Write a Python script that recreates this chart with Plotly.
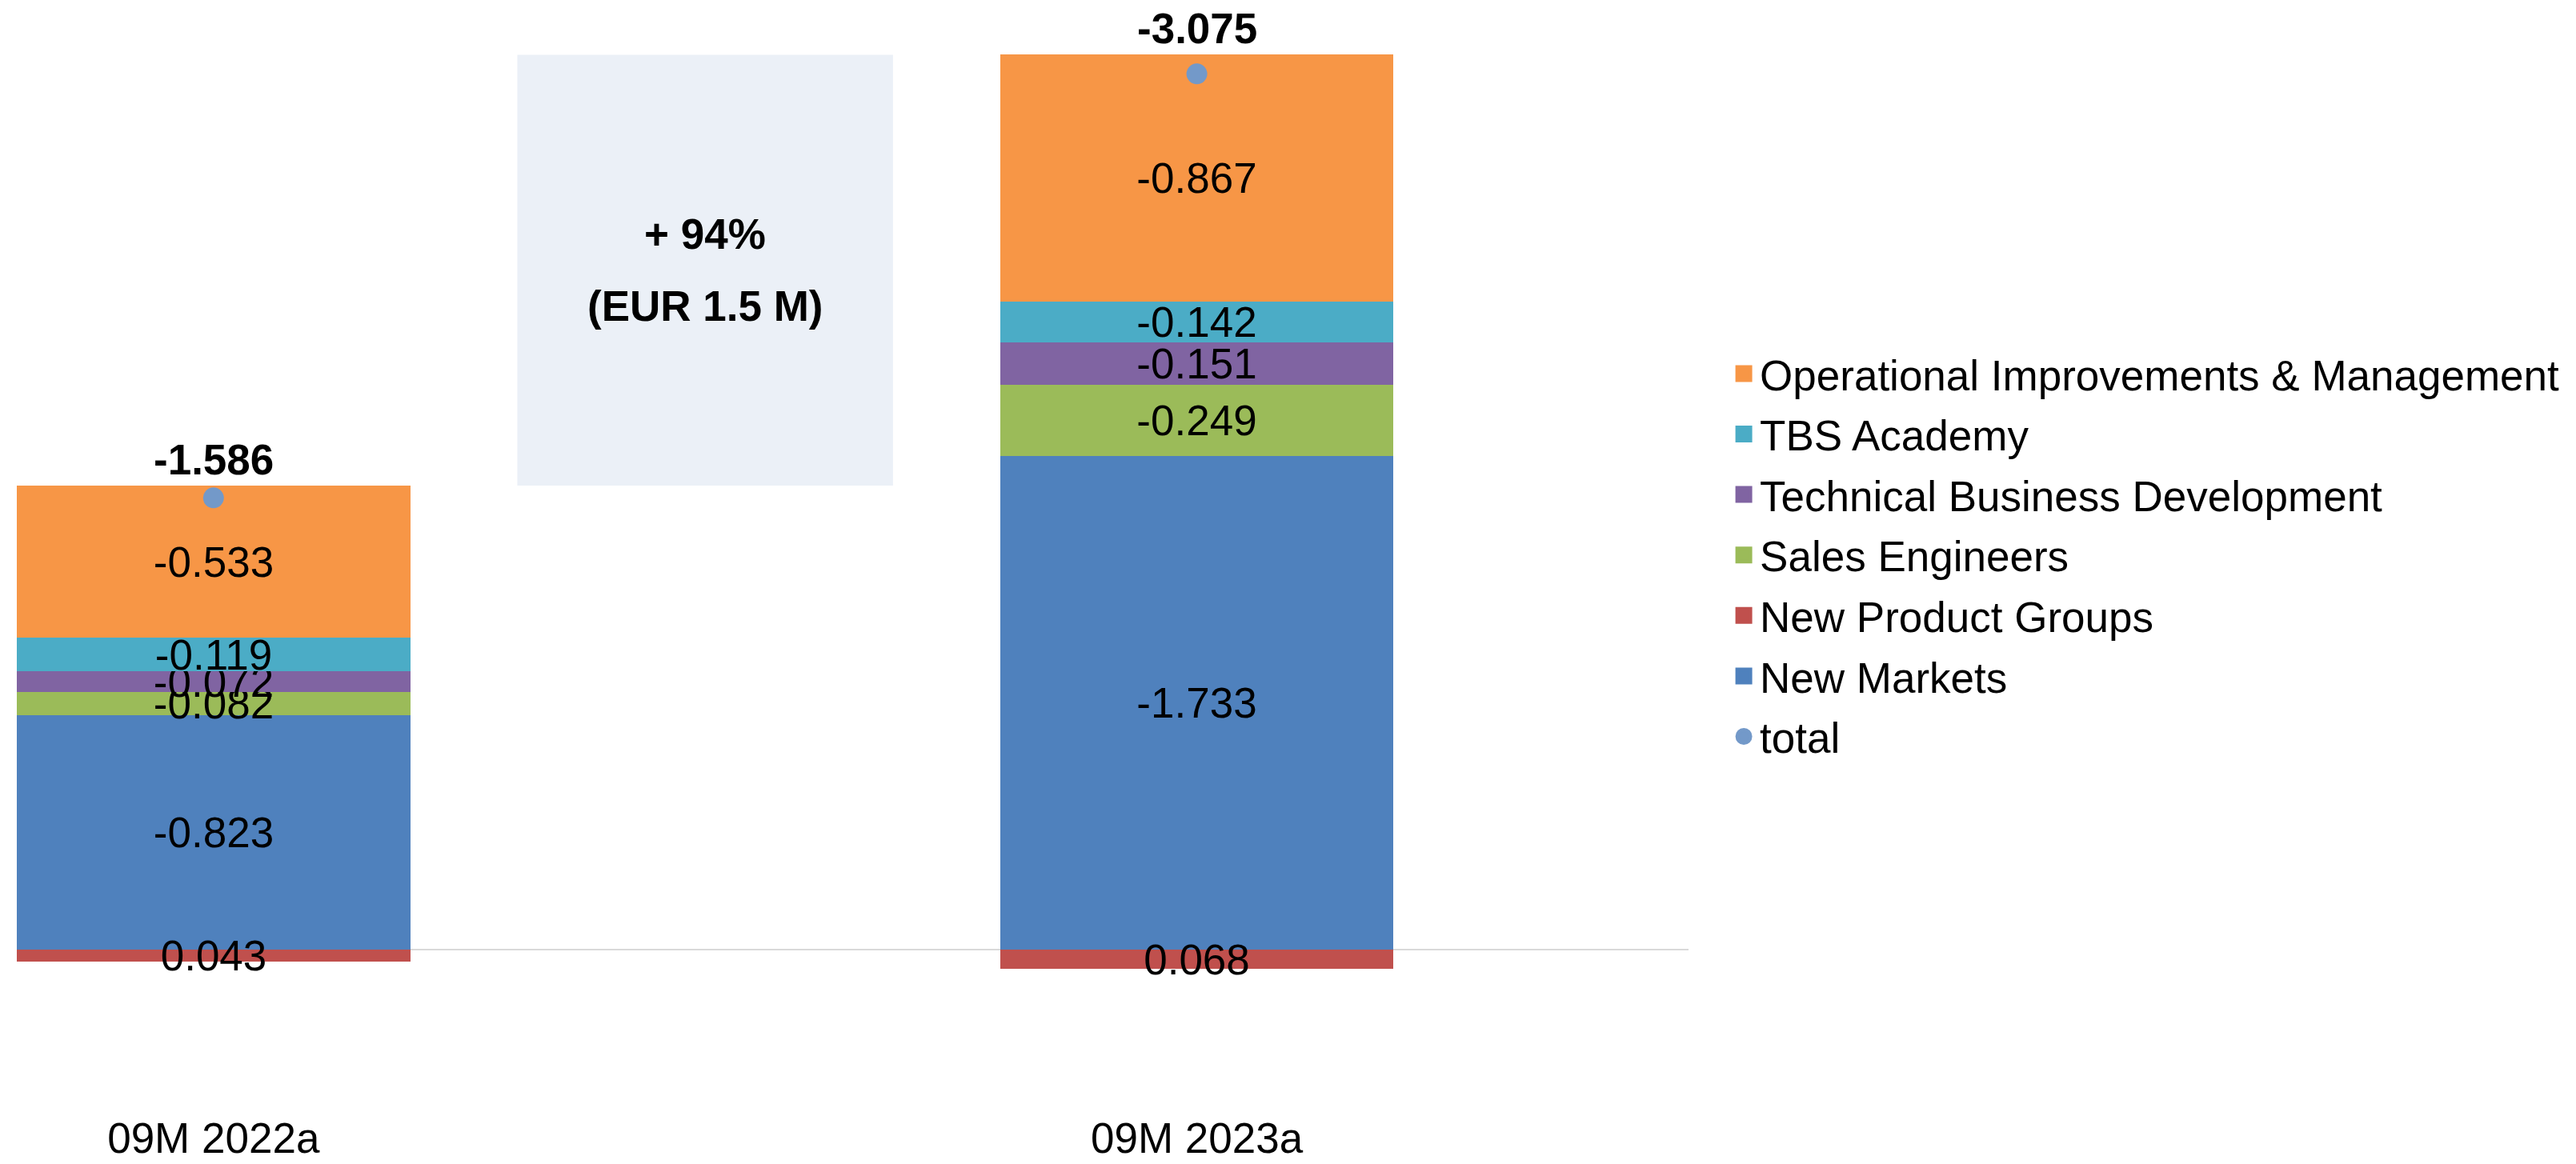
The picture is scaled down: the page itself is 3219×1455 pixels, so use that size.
import plotly.graph_objects as go

# Periods on the x axis (a spacer slot sits between them for the change box)
periods = ["09M 2022a", "09M 2023a"]

# Segment values per business area, EUR M
new_markets = [-0.823, -1.733]
new_product_groups = [0.043, 0.068]
sales_engineers = [-0.082, -0.249]
technical_business_dev = [-0.072, -0.151]
tbs_academy = [-0.119, -0.142]
operational_improvements = [-0.533, -0.867]
totals = [-1.586, -3.075]

# x positions: the two periods with an empty slot between them
x_pos = [2 * i for i in range(len(periods))]

FONT = "Liberation Sans, Arial, sans-serif"
FS = 53
TOTAL_COLOR = "#7399C9"

# stacking order from the zero line outward; legend rank puts them top-down
segments = [
    ("New Markets", new_markets, "#4F81BD", 6),
    ("New Product Groups", new_product_groups, "#C0504D", 5),
    ("Sales Engineers", sales_engineers, "#9BBB59", 4),
    ("Technical Business Development", technical_business_dev, "#8064A2", 3),
    ("TBS Academy", tbs_academy, "#4BACC6", 2),
    ("Operational Improvements & Management", operational_improvements, "#F79646", 1),
]

fig = go.Figure()

for name, vals, color, rank in segments:
    fig.add_trace(go.Bar(
        x=x_pos, y=vals, name=name, legendgroup=name, showlegend=False,
        marker=dict(color=color, line=dict(width=0)),
        width=0.8,
        text=[f"{v:.3f}" for v in vals],
        textposition="inside",
        insidetextanchor="middle",
        textangle=0,
        constraintext="none",
        insidetextfont=dict(family=FONT, size=FS, color="black"),
        cliponaxis=False,
    ))
    # larger legend swatch
    fig.add_trace(go.Scatter(
        x=[None], y=[None], mode="markers", name=name, legendgroup=name,
        legendrank=rank,
        marker=dict(symbol="square", size=16, color=color,
                    line=dict(width=5, color=color)),
        hoverinfo="skip",
    ))

fig.add_trace(go.Scatter(
    x=x_pos, y=totals, mode="markers", name="total",
    legendgroup="total", showlegend=False,
    marker=dict(size=26, color=TOTAL_COLOR),
    hoverinfo="skip",
))
fig.add_trace(go.Scatter(
    x=[None], y=[None], mode="markers", name="total", legendgroup="total",
    legendrank=7,
    marker=dict(symbol="circle", size=16, color=TOTAL_COLOR,
                line=dict(width=5, color=TOTAL_COLOR)),
    hoverinfo="skip",
))

# top of each stacked bar (sum of the negative segments)
neg_tops = [sum(v[i] for _, v, _, _ in segments if v[i] < 0) for i in range(len(periods))]

annotations = []
for xp, tot, top in zip(x_pos, totals, neg_tops):
    annotations.append(dict(
        x=xp, y=top, xref="x", yref="y", text=f"<b>{tot:.3f}</b>",
        showarrow=False, yshift=33, yanchor="middle",
        font=dict(family=FONT, size=FS, color="black"),
    ))

# change box between the two bars
pct = (totals[1] / totals[0] - 1) * 100
diff = abs(totals[1] - totals[0])
box_mid_x = (x_pos[0] + x_pos[1]) / 2
box_mid_y = (neg_tops[0] + neg_tops[1]) / 2
fig.add_shape(type="rect", xref="x", yref="y",
              x0=box_mid_x - 0.382, x1=box_mid_x + 0.382,
              y0=neg_tops[0], y1=neg_tops[1],
              fillcolor="#EBF0F7", line=dict(width=0), layer="below")
annotations.append(dict(x=box_mid_x, y=box_mid_y, xref="x", yref="y",
                        text=f"<b>+ {pct:.0f}%</b>", showarrow=False, yshift=45,
                        font=dict(family=FONT, size=FS, color="black")))
annotations.append(dict(x=box_mid_x, y=box_mid_y, xref="x", yref="y",
                        text=f"<b>(EUR {diff:.1f} M)</b>", showarrow=False, yshift=-45,
                        font=dict(family=FONT, size=FS, color="black")))

fig.update_layout(
    width=3219, height=1455,
    margin=dict(l=21, r=1109, t=40, b=68, autoexpand=False),
    paper_bgcolor="white", plot_bgcolor="white",
    barmode="relative",
    bargap=0,
    font=dict(family=FONT, size=FS, color="black"),
    showlegend=True,
    legend=dict(
        traceorder="grouped", tracegroupgap=3.7,
        x=1.0235, xanchor="left", y=0.5145, yanchor="middle",
        font=dict(family=FONT, size=FS, color="black"),
        bgcolor="rgba(0,0,0,0)",
    ),
    annotations=annotations,
    xaxis=dict(
        range=[-0.4, 3.0], tickmode="array", tickvals=x_pos, ticktext=periods,
        showgrid=False, zeroline=False, showline=False, ticks="",
        automargin=False,
        tickfont=dict(family=FONT, size=FS, color="black"),
    ),
    yaxis=dict(
        range=[0.562, -3.222], showgrid=False, showticklabels=False,
        zeroline=True, zerolinecolor="#D9D9D9", zerolinewidth=2,
        showline=False, ticks="", automargin=False,
    ),
)

fig.write_html("out.html")
